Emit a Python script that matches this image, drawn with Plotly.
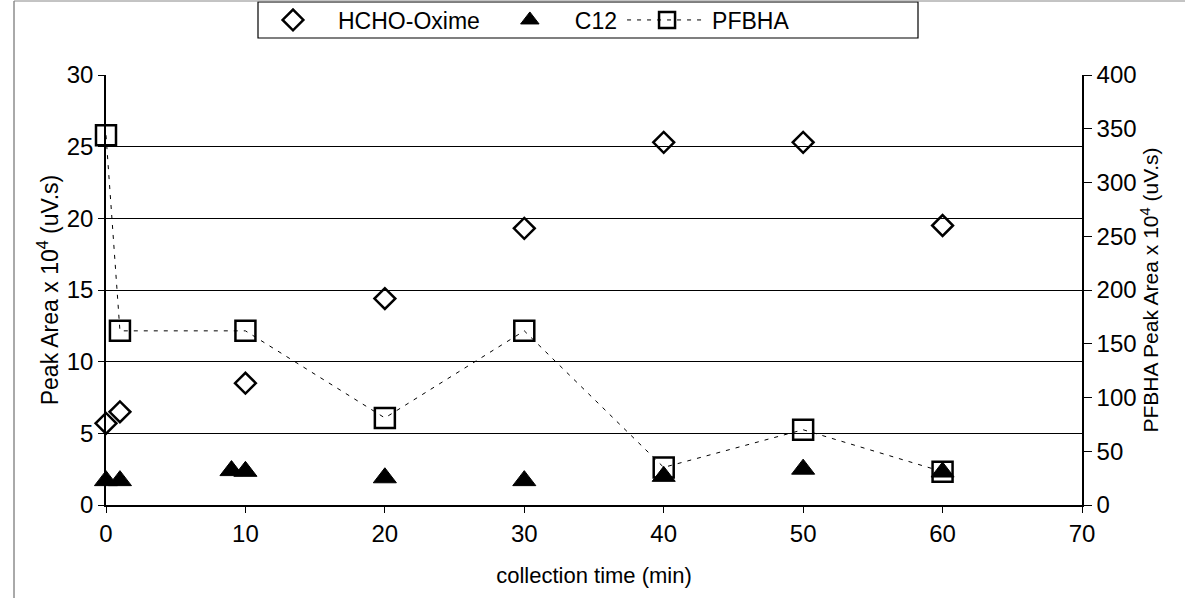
import plotly.graph_objects as go

# Data
hcho_x = [0, 1, 10, 20, 30, 40, 50, 60]
hcho_y = [5.7, 6.5, 8.5, 14.4, 19.3, 25.3, 25.3, 19.5]

c12_x = [0, 1, 9, 10, 20, 30, 40, 50, 60]
c12_y = [1.7, 1.7, 2.4, 2.35, 1.9, 1.7, 2.0, 2.5, 2.3]

pfbha_x = [0, 1, 10, 20, 30, 40, 50, 60]
pfbha_y = [344, 162, 162, 81, 162, 35, 70, 31]

x_ticks = [0, 10, 20, 30, 40, 50, 60, 70]
y_left_ticks = [0, 5, 10, 15, 20, 25, 30]
y_right_ticks = [0, 50, 100, 150, 200, 250, 300, 350, 400]

FONT = "Liberation Sans, Arial, sans-serif"

fig = go.Figure()

fig.add_trace(go.Scatter(
    x=hcho_x, y=hcho_y, name="HCHO-Oxime", mode="markers",
    marker=dict(symbol="diamond-open", size=16, color="black", line=dict(width=2.5, color="black")),
    cliponaxis=False,
))
fig.add_trace(go.Scatter(
    x=c12_x, y=c12_y, name="C12", mode="markers",
    marker=dict(symbol="triangle-up", size=20, color="black", line=dict(width=1, color="black")),
    cliponaxis=False,
))
fig.add_trace(go.Scatter(
    x=pfbha_x, y=pfbha_y, name="PFBHA", mode="lines+markers", yaxis="y2",
    line=dict(color="black", width=1, dash="4px,6px"),
    marker=dict(symbol="square-open", size=20, color="black", line=dict(width=2.5, color="black")),
    cliponaxis=False,
))

# plot area: x 106-1082, y 75-505 (page body margin removed below)
fig.update_layout(
    width=1185, height=598,
    margin=dict(l=106, r=103, t=75, b=93, autoexpand=False),
    paper_bgcolor="white", plot_bgcolor="white",
    font=dict(family=FONT, size=22, color="black"),
    showlegend=True,
    legend=dict(
        orientation="h", x=(248 - 106) / 976, xanchor="left", y=(505 - 20) / 430, yanchor="middle",
        borderwidth=0, bgcolor="rgba(0,0,0,0)",
        font=dict(size=23), itemwidth=80,
    ),
    xaxis=dict(
        range=[0, 70], tickvals=x_ticks, showgrid=False, zeroline=False, automargin=False,
        showline=True, linecolor="black", linewidth=1.5,
        ticks="outside", ticklen=6, tickcolor="black",
        title=dict(text="collection time (min)", font=dict(size=22), standoff=22),
        tickfont=dict(size=24),
    ),
    yaxis=dict(
        range=[0, 30], tickvals=y_left_ticks, showgrid=True, gridcolor="black", gridwidth=1,
        zeroline=False, showline=True, linecolor="black", linewidth=1.5, automargin=False,
        ticks="outside", ticklen=6, tickcolor="black",
        title=dict(text="Peak Area x 10<sup>4</sup> (uV.s)", font=dict(size=23), standoff=2),
        tickfont=dict(size=24),
    ),
    yaxis2=dict(
        range=[0, 400], tickvals=y_right_ticks, overlaying="y", side="right", automargin=False,
        showgrid=False, zeroline=False, showline=True, linecolor="black", linewidth=1.5,
        ticks="outside", ticklen=8, tickcolor="black",
        title=dict(text="PFBHA Peak Area x 10<sup>4</sup> (uV.s)", font=dict(size=21), standoff=4),
        tickfont=dict(size=24),
    ),
)

# legend frame
fig.add_shape(type="rect", xref="paper", yref="paper",
              x0=(258 - 106) / 976, x1=(918 - 106) / 976,
              y0=(505 - 38) / 430, y1=(505 - 2) / 430,
              line=dict(color="black", width=1.2), fillcolor="rgba(0,0,0,0)")
# outer chart border (left and top edges visible in reference)
fig.add_shape(type="line", xref="paper", yref="paper", x0=(14 - 106) / 976, x1=(14 - 106) / 976,
              y0=-0.22, y1=(505 - 1) / 430, line=dict(color="#555", width=1))
fig.add_shape(type="line", xref="paper", yref="paper", x0=(14 - 106) / 976, x1=1.106,
              y0=(505 - 1) / 430, y1=(505 - 1) / 430, line=dict(color="#888", width=1))

fig.write_html("out.html", config={"displayModeBar": False},
               post_script="document.body.style.margin='0';")
